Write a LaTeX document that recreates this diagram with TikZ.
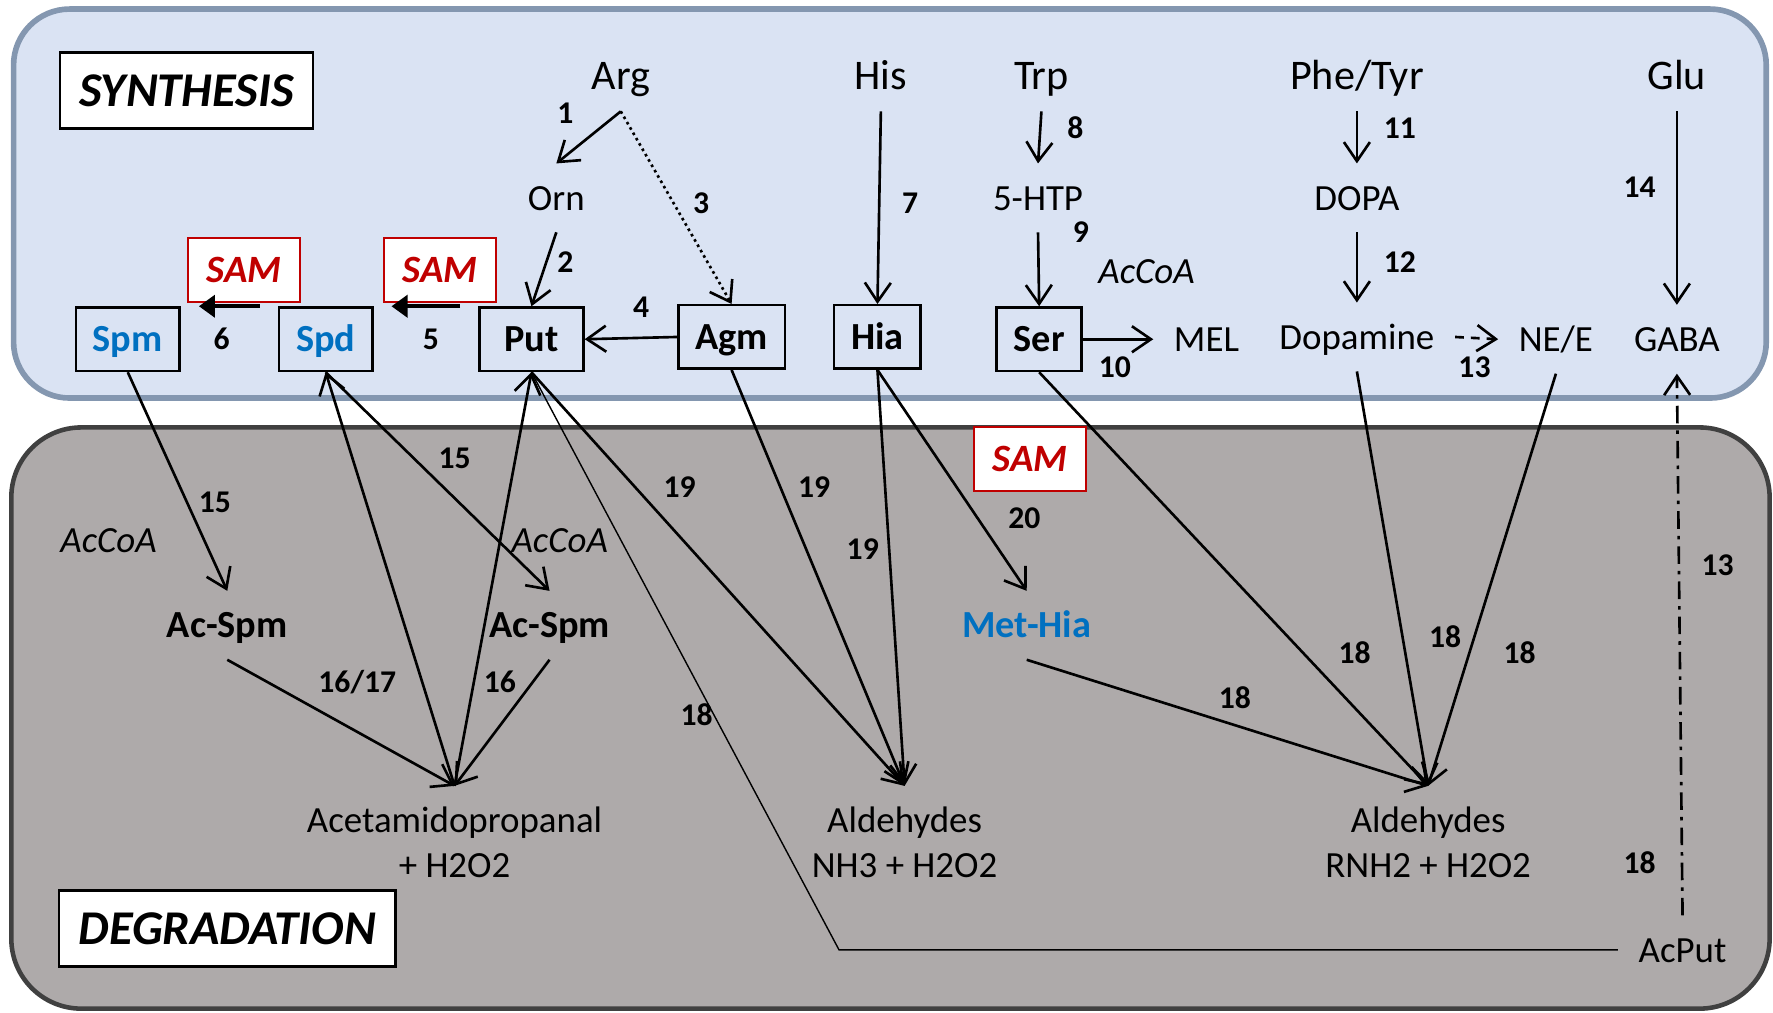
\documentclass[tikz,border=0pt]{standalone}
\usepackage{fontspec}
\setmainfont{Carlito}
\usetikzlibrary{arrows.meta}
\definecolor{synfill}{RGB}{218,227,243}
\definecolor{synline}{RGB}{132,151,176}
\definecolor{degfill}{RGB}{174,170,170}
\definecolor{degline}{RGB}{64,64,64}
\definecolor{pablue}{RGB}{0,112,192}
\definecolor{samred}{RGB}{192,0,0}
\tikzset{
  txt/.style={inner xsep=2mm, inner ysep=1.7mm, text height=2.9mm, text depth=.45mm,
    font=\fontsize{10.5}{12.5}\selectfont},
  big/.style={txt, font=\fontsize{12}{14}\selectfont},
  bold/.style={txt, font=\fontsize{10.9}{13}\selectfont\bfseries},
  cof/.style={txt, font=\fontsize{10.5}{12.5}\selectfont\itshape},
  twoline/.style={inner xsep=2mm, inner ysep=2.05mm, align=center, anchor=north,
    font=\fontsize{10.5}{12.6}\selectfont},
  box/.style={bold, draw, line width=.7pt, inner xsep=1.7mm, inner ysep=1.5mm, minimum height=6.3mm},
  pa/.style={text=pablue},
  num/.style={inner sep=0pt, font=\fontsize{9}{10}\selectfont\bfseries},
  sam/.style={draw=samred, fill=white, line width=.6pt, text=samred, minimum width=11.2mm,
    minimum height=6.4mm, font=\fontsize{11}{13}\selectfont\bfseries\itshape},
  title/.style={draw, fill=white, line width=.7pt, minimum height=7.6mm,
    font=\fontsize{13.8}{16}\selectfont\bfseries\itshape},
  arr/.style={line width=.75pt, -{Straight Barb[length=1.9mm,width=2.6mm]}},
  samarr/.style={line width=1.1pt, -{Triangle[length=1.6mm,width=2.2mm]}},
}
\begin{document}
\begin{tikzpicture}[x=0.11307mm, y=-0.11307mm]
\useasboundingbox (0,0) rectangle (1568,895);
% the two compartments
\draw[synline, fill=synfill, line width=1.6pt, rounded corners=5.6mm] (12,8) rectangle (1562,352);
\draw[degline, fill=degfill, line width=1.3pt, rounded corners=7mm] (10,378) rectangle (1565,892);
\node[title, minimum width=25.3mm] (syn) at (165,80) {SYNTHESIS};
\node[title, minimum width=33.6mm] (deg) at (201,821) {DEGRADATION};

% precursors
\node[big] (arg) at (549,68) {Arg};
\node[big] (his) at (779,68) {His};
\node[big] (trp) at (921,68) {Trp};
\node[big] (phe) at (1200,68) {Phe/Tyr};
\node[big] (glu) at (1483,68) {Glu};
\node[txt] (orn) at (492,175) {Orn};
\node[txt] (htp) at (918,175) {5-HTP};
\node[txt] (dopa) at (1200,175) {DOPA};

% amines
\node[box, pa] (spm) at (113,300) {Spm};
\node[box, pa] (spd) at (288,300) {Spd};
\node[box, minimum width=10.4mm] (put) at (470,300) {Put};
\node[box] (agm) at (647,298) {Agm};
\node[box] (hia) at (776,298) {Hia};
\node[box] (ser) at (919,300) {Ser};
\node[txt] (mel) at (1067,300) {MEL};
\node[txt] (dop) at (1200,298) {Dopamine};
\node[txt] (nee) at (1376,300) {NE/E};
\node[txt] (gaba) at (1483,300) {GABA};
\node[sam] (sam1) at (216,239) {SAM};
\node[sam] (sam2) at (389,239) {SAM};
\node[cof] (accoa1) at (1014,240) {AcCoA};

% degradation products
\node[cof] (accoa2) at (96,478) {AcCoA};
\node[cof] (accoa3) at (495,478) {AcCoA};
\node[bold] (acspm1) at (201,553) {Ac-Spm};
\node[bold] (acspm2) at (486,553) {Ac-Spm};
\node[bold, pa] (methia) at (908,553) {Met-Hia};
\node[sam] (sam3) at (911,406) {SAM};
\node[twoline] (acet) at (402,695) {Acetamidopropanal\\+ H2O2};
\node[twoline] (ald1) at (800,695) {Aldehydes\\NH3 + H2O2};
\node[twoline] (ald2) at (1263,695) {Aldehydes\\RNH2 + H2O2};
\node[txt] (acput) at (1488,840) {AcPut};
\coordinate (bend) at (742,840);

% synthesis steps
\draw[arr] (arg.south) -- (orn.north);
\draw[arr, densely dotted] (arg.south) -- (agm.north);
\draw[arr] (orn.south) -- (put.north);
\draw[arr] (agm.west) -- (put.east);
\draw[samarr] ([xshift=-1.8mm]put.north west) -- ([xshift=1.8mm]spd.north east);
\draw[samarr] ([xshift=-1.8mm]spd.north west) -- ([xshift=1.8mm]spm.north east);
\draw[arr] (his.south) -- (hia.north);
\draw[arr] (trp.south) -- (htp.north);
\draw[arr] (htp.south) -- (ser.north);
\draw[arr] (ser.east) -- (mel.west);
\draw[arr] (phe.south) -- (dopa.north);
\draw[arr] (dopa.south) -- (dop.north);
\draw[arr, dash pattern=on 2.5pt off 2pt] (dop.east) -- (nee.west);
\draw[arr] (glu.south) -- (gaba.north);

% degradation steps
\draw[arr] (spm.south) -- (acspm1.north);
\draw[arr] (spd.south) -- (acspm2.north);
\draw[arr] (acspm1.south) -- (acet.north);
\draw[arr] (acspm2.south) -- (acet.north);
\draw[arr] (acet.north) -- (spd.south);
\draw[arr] (acet.north) -- (put.south);
\draw[arr] (put.south) -- (ald1.north);
\draw[line width=.4pt] (put.south) -- (bend) -- (acput.west);
\draw[arr] (agm.south) -- (ald1.north);
\draw[arr] (hia.south) -- (ald1.north);
\draw[arr] (hia.south) -- (methia.north);
\draw[arr] (ser.south) -- (ald2.north);
\draw[arr] (dop.south) -- (ald2.north);
\draw[arr] (nee.south) -- (ald2.north);
\draw[arr] (methia.south) -- (ald2.north);
\draw[arr, dash pattern=on 5pt off 2pt on 1pt off 2pt] (acput.north) -- (gaba.south);

% enzyme numbers
\node[num] (n1) at (500,100) {1};
\node[num] (n2) at (500,232) {2};
\node[num] (n3) at (620,180) {3};
\node[num] (n4) at (567,272) {4};
\node[num] (n5) at (381,300) {5};
\node[num] (n6) at (196,300) {6};
\node[num] (n7) at (805,180) {7};
\node[num] (n8) at (951,113) {8};
\node[num] (n9) at (956,205) {9};
\node[num] (n10) at (986,325) {10};
\node[num] (n11) at (1238,113) {11};
\node[num] (n12) at (1238,232) {12};
\node[num] (n13) at (1304,325) {13};
\node[num] (n14) at (1450,166) {14};
\node[num] (n15a) at (190,444) {15};
\node[num] (n15b) at (402,405) {15};
\node[num] (n16a) at (316,603) {16/17};
\node[num] (n16b) at (442,603) {16};
\node[num] (n19a) at (601,431) {19};
\node[num] (n19b) at (720,431) {19};
\node[num] (n19c) at (763,486) {19};
\node[num] (n20) at (906,458) {20};
\node[num] (n18a) at (616,632) {18};
\node[num] (n18b) at (1092,617) {18};
\node[num] (n18c) at (1198,577) {18};
\node[num] (n18d) at (1278,563) {18};
\node[num] (n18e) at (1344,577) {18};
\node[num] (n13b) at (1519,500) {13};
\node[num] (n18f) at (1450,763) {18};
\end{tikzpicture}
\end{document}
